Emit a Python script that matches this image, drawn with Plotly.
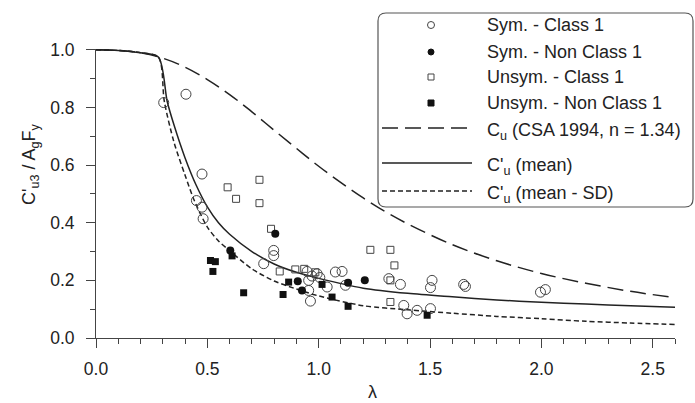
import plotly.graph_objects as go

# ---------------- data ----------------
# CSA 1994 curve (n = 1.34)
csa_lam = [0.0, 0.1, 0.2, 0.3, 0.4, 0.5, 0.6, 0.7, 0.8, 0.9, 1.0, 1.1, 1.2, 1.3, 1.4, 1.6, 1.8, 2.0, 2.2, 2.4, 2.6]
csa_val = [1.0, 0.998, 0.990, 0.971, 0.940, 0.897, 0.845, 0.785, 0.721, 0.658, 0.596, 0.539, 0.486, 0.438, 0.396, 0.324, 0.268, 0.224, 0.190, 0.162, 0.140]

# C'u (mean)
mean_lam = [0.0, 0.1, 0.2, 0.28, 0.32, 0.35, 0.40, 0.45, 0.50, 0.55, 0.60, 0.70, 0.80, 0.90, 1.0, 1.2, 1.4, 1.6, 1.8, 2.0, 2.2, 2.4, 2.6]
mean_val = [1.0, 0.998, 0.990, 0.975, 0.82, 0.74, 0.625, 0.53, 0.455, 0.40, 0.36, 0.30, 0.257, 0.228, 0.207, 0.173, 0.155, 0.143, 0.132, 0.124, 0.118, 0.112, 0.107]

# C'u (mean - SD)
sd_lam = [0.0, 0.1, 0.2, 0.28, 0.307, 0.35, 0.40, 0.44, 0.50, 0.55, 0.60, 0.70, 0.80, 0.90, 1.0, 1.2, 1.4, 1.6, 1.8, 2.0, 2.2, 2.4, 2.6]
sd_val = [1.0, 0.998, 0.990, 0.975, 0.82, 0.68, 0.565, 0.48, 0.385, 0.337, 0.303, 0.24, 0.198, 0.170, 0.146, 0.112, 0.098, 0.086, 0.075, 0.067, 0.058, 0.052, 0.047]

# Sym. - Class 1 (open circles)
sym_c1_lam = [0.304, 0.404, 0.476, 0.451, 0.476, 0.481, 0.798, 0.798, 0.753, 0.948, 0.970, 0.993, 1.005,
              0.955, 0.955, 0.963, 1.075, 1.105, 1.038, 1.120, 1.315, 1.367, 1.509, 1.502, 1.651, 1.659,
              1.996, 2.018, 1.382, 1.397, 1.442, 1.502]
sym_c1_val = [0.817, 0.846, 0.569, 0.477, 0.454, 0.414, 0.304, 0.286, 0.258, 0.231, 0.215, 0.223, 0.210,
              0.200, 0.165, 0.128, 0.229, 0.231, 0.177, 0.183, 0.206, 0.186, 0.200, 0.175, 0.186, 0.179,
              0.159, 0.168, 0.113, 0.084, 0.096, 0.102]

# Sym. - Non Class 1 (filled circles)
sym_nc1_lam = [0.805, 0.603, 0.906, 0.925, 1.132, 1.207]
sym_nc1_val = [0.362, 0.304, 0.197, 0.165, 0.192, 0.200]

# Unsym. - Class 1 (open squares)
uns_c1_lam = [0.591, 0.629, 0.734, 0.734, 0.786, 0.825, 0.895, 0.935, 0.985, 1.232, 1.322, 1.340, 1.322, 1.322]
uns_c1_val = [0.523, 0.483, 0.549, 0.468, 0.379, 0.231, 0.238, 0.240, 0.228, 0.306, 0.306, 0.252, 0.200, 0.125]

# Unsym. - Non Class 1 (filled squares)
uns_nc1_lam = [0.514, 0.536, 0.525, 0.611, 0.663, 0.865, 0.840, 1.015, 1.060, 1.132, 1.487]
uns_nc1_val = [0.269, 0.265, 0.231, 0.285, 0.157, 0.194, 0.151, 0.186, 0.142, 0.110, 0.079]

legend_labels = ["Sym. - Class 1", "Sym. - Non Class 1", "Unsym. - Class 1", "Unsym. - Non Class 1",
                 "C<sub>u</sub> (CSA 1994, n = 1.34)", "C'<sub>u</sub> (mean)", "C'<sub>u</sub> (mean - SD)"]

# ---------------- figure ----------------
W, H = 695, 403
L, R, T, B = 96, 20, 49, 65
PW, PH = W - L - R, H - T - B
FONT = "Liberation Sans, Arial, sans-serif"
INK = "#222222"


def px(x):
    return (x - L) / PW


def py(y):
    return (H - B - y) / PH


fig = go.Figure()
fig.add_trace(go.Scatter(x=csa_lam, y=csa_val, mode="lines", line=dict(color=INK, width=1.5, dash="16px,7px", shape="spline"), showlegend=False))
fig.add_trace(go.Scatter(x=mean_lam, y=mean_val, mode="lines", line=dict(color=INK, width=1.5, shape="spline", smoothing=0.8), showlegend=False))
fig.add_trace(go.Scatter(x=sd_lam, y=sd_val, mode="lines", line=dict(color=INK, width=1.5, dash="5px,3px", shape="spline", smoothing=0.8), showlegend=False))

fig.add_trace(go.Scatter(x=sym_c1_lam, y=sym_c1_val, mode="markers",
                         marker=dict(symbol="circle-open", size=10, color="#444", line=dict(width=1)), showlegend=False))
fig.add_trace(go.Scatter(x=uns_c1_lam, y=uns_c1_val, mode="markers",
                         marker=dict(symbol="square-open", size=7, color="#444", line=dict(width=1)), showlegend=False))
fig.add_trace(go.Scatter(x=sym_nc1_lam, y=sym_nc1_val, mode="markers",
                         marker=dict(symbol="circle", size=8, color="#111"), showlegend=False))
fig.add_trace(go.Scatter(x=uns_nc1_lam, y=uns_nc1_val, mode="markers",
                         marker=dict(symbol="square", size=7, color="#111"), showlegend=False))

# ---------------- manual legend ----------------
shapes = []
annotations = []
bx0, bx1, by0, by1, r = 378, 693, 13, 207, 8
rx, ry = r / PW, r / PH
X0, X1, Y0, Y1 = px(bx0), px(bx1), py(by1), py(by0)
path = (f"M{X0+rx},{Y1} L{X1-rx},{Y1} Q{X1},{Y1} {X1},{Y1-ry} L{X1},{Y0+ry} Q{X1},{Y0} {X1-rx},{Y0} "
        f"L{X0+rx},{Y0} Q{X0},{Y0} {X0},{Y0+ry} L{X0},{Y1-ry} Q{X0},{Y1} {X0+rx},{Y1} Z")
shapes.append(dict(type="path", xref="paper", yref="paper", path=path, line=dict(color="#555", width=1.2), fillcolor="white", layer="above"))

rows = [25, 52, 77, 103, 128, 163, 191]
mx = 431
shapes.append(dict(type="circle", xref="paper", yref="paper", x0=px(mx - 3.5), x1=px(mx + 3.5), y0=py(rows[0] + 3.5), y1=py(rows[0] - 3.5),
                   line=dict(color="#444", width=1), fillcolor="white", layer="above"))
shapes.append(dict(type="circle", xref="paper", yref="paper", x0=px(mx - 3), x1=px(mx + 3), y0=py(rows[1] + 3), y1=py(rows[1] - 3),
                   line=dict(color="#111", width=1), fillcolor="#111", layer="above"))
shapes.append(dict(type="rect", xref="paper", yref="paper", x0=px(mx - 3), x1=px(mx + 3), y0=py(rows[2] + 3), y1=py(rows[2] - 3),
                   line=dict(color="#444", width=1), fillcolor="white", layer="above"))
shapes.append(dict(type="rect", xref="paper", yref="paper", x0=px(mx - 3), x1=px(mx + 3), y0=py(rows[3] + 3), y1=py(rows[3] - 3),
                   line=dict(color="#111", width=1), fillcolor="#111", layer="above"))
for row, dash in zip(rows[4:], ["16px,7px", "solid", "5px,3px"]):
    shapes.append(dict(type="line", xref="paper", yref="paper", x0=px(382), x1=px(472), y0=py(row), y1=py(row),
                       line=dict(color=INK, width=1.5, dash=dash), layer="above"))

text_dy = [0, 0, 0, 0, 3, 3, 3]
for row, lab, dy in zip(rows, legend_labels, text_dy):
    annotations.append(dict(xref="paper", yref="paper", x=px(485), y=py(row + dy), text=lab, showarrow=False,
                            xanchor="left", yanchor="middle", font=dict(family=FONT, size=18, color=INK)))

# axis titles
annotations.append(dict(xref="paper", yref="paper", x=px(30), y=py(165), text="C'<sub>u3</sub> / A<sub>g</sub>F<sub>y</sub>",
                        textangle=-90, showarrow=False, xanchor="center", yanchor="middle",
                        font=dict(family=FONT, size=18, color=INK)))
annotations.append(dict(xref="paper", yref="paper", x=px(372), y=py(392), text="λ", showarrow=False,
                        xanchor="center", yanchor="middle", font=dict(family=FONT, size=18, color=INK)))

axis_common = dict(showgrid=False, zeroline=False, showline=True, linecolor="#444", linewidth=1,
                   ticks="outside", ticklen=9, tickwidth=1, tickcolor="#444",
                   tickfont=dict(family=FONT, size=17.5, color=INK), tickformat=".1f",
                   minor=dict(ticks="outside", ticklen=5, tickwidth=1, tickcolor="#444", dtick=0.1))

fig.update_layout(
    width=W, height=H, margin=dict(l=L, r=R, t=T, b=B),
    paper_bgcolor="white", plot_bgcolor="white",
    xaxis=dict(range=[0, 2.6], dtick=0.5, tick0=0, ticklabelstandoff=6, **axis_common),
    yaxis=dict(range=[0, 1.003], dtick=0.2, tick0=0, ticklabelstandoff=8, **axis_common),
    shapes=shapes, annotations=annotations, showlegend=False,
    font=dict(family=FONT, color=INK),
)

fig.write_html("out.html")
